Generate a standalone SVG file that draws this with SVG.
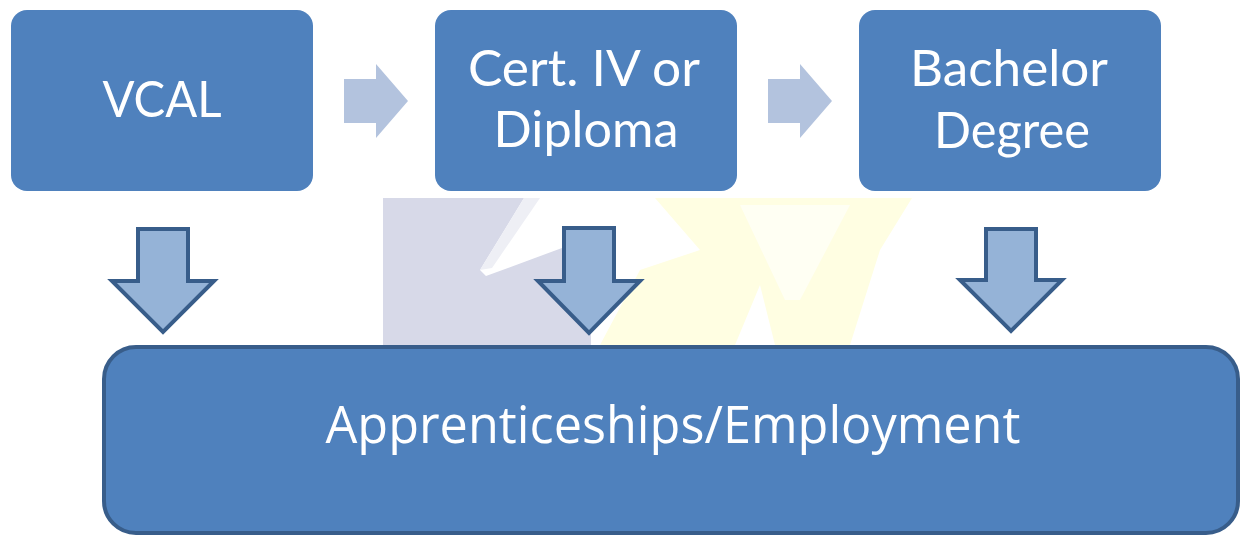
<svg xmlns="http://www.w3.org/2000/svg" width="1241" height="536" viewBox="0 0 1241 536">
<style>
.box{fill:#4f81bd;}
.big{fill:#4f81bd;stroke:#385d8a;stroke-width:4;}
.rarrow{fill:#b3c3de;}
.darrow{fill:#95b3d7;stroke:#385d8a;stroke-width:4;stroke-linejoin:miter;}
.lbl{font-family:Lato,"Open Sans",sans-serif;font-size:50px;fill:#ffffff;text-anchor:middle;font-variant-ligatures:none;}
.lbl2{font-family:"Open Sans","Noto Sans",sans-serif;font-size:51px;fill:#ffffff;text-anchor:middle;font-variant-ligatures:none;}
</style>
<rect width="1241" height="536" fill="#ffffff"/>
<g id="watermark">
<rect x="383" y="198" width="208" height="147" fill="#d7d9e8"/>
<polygon points="524,198 591,198 591,252 562,248 486,276 480,270" fill="#ffffff"/>
<polygon points="480,270 524,198 540,198 492,268" fill="#eeeff5"/>
<polygon points="655,198 912,198 880,250 850,345 775,345 760,285 735,345 600,345 640,270 700,250" fill="#fffee2"/>
<polygon points="740,205 850,205 800,300 785,300" fill="#ffffff" opacity="0.6"/>
</g>
<g id="vcal">
<rect class="box" x="11" y="10" width="302" height="181" rx="16"/>
<text class="lbl" x="162" y="117" textLength="119" lengthAdjust="spacingAndGlyphs">VCAL</text>
</g>
<g id="cert">
<rect class="box" x="435" y="10" width="302" height="181" rx="16"/>
<text class="lbl" x="584" y="86" textLength="232" lengthAdjust="spacingAndGlyphs">Cert. IV or</text>
<text class="lbl" x="586" y="147" textLength="185" lengthAdjust="spacingAndGlyphs">Diploma</text>
</g>
<g id="bachelor">
<rect class="box" x="859" y="10" width="302" height="181" rx="16"/>
<text class="lbl" x="1009" y="86" textLength="198" lengthAdjust="spacingAndGlyphs">Bachelor</text>
<text class="lbl" x="1012" y="148" textLength="156" lengthAdjust="spacingAndGlyphs">Degree</text>
</g>
<g id="employment">
<rect class="big" x="104" y="347" width="1134" height="186" rx="32"/>
<text class="lbl2" x="673" y="443" textLength="695" lengthAdjust="spacingAndGlyphs">Apprenticeships/Employment</text>
</g>
<g id="connectors">
<polygon class="rarrow" points="344,79 376,79 376,64 408,101 376,138 376,123 344,123"/>
<polygon class="rarrow" points="768,79 800,79 800,64 832,101 800,138 800,123 768,123"/>
<polygon class="darrow" points="138,229 188,229 188,281 214,281 163,332 112,281 138,281"/>
<polygon class="darrow" points="564,228 614,228 614,281 640,281 589,333 538,281 564,281"/>
<polygon class="darrow" points="986,229 1036,229 1036,280 1062,280 1011,331 960,280 986,280"/>
</g>
</svg>
